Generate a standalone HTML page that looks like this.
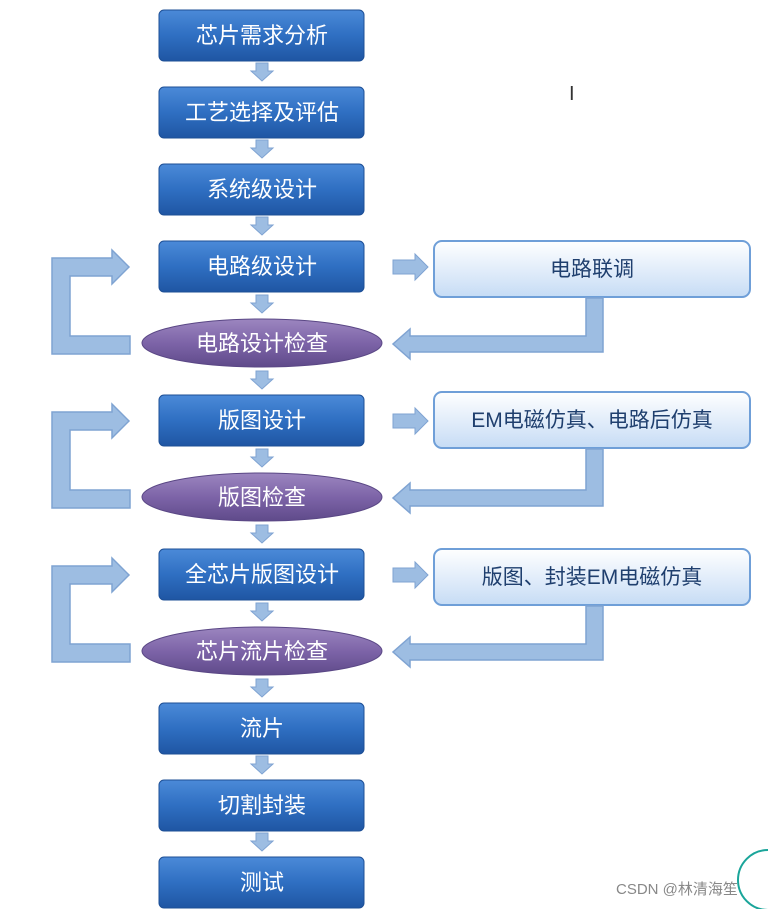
<!DOCTYPE html>
<html><head><meta charset="utf-8"><style>
html,body{margin:0;padding:0;background:#fff;width:768px;height:909px;overflow:hidden}
text{font-family:"Liberation Sans","Noto Sans CJK SC",sans-serif}
</style></head><body>
<svg width="768" height="909" viewBox="0 0 768 909" xmlns="http://www.w3.org/2000/svg">
<defs>
<linearGradient id="bb" x1="0" y1="0" x2="0" y2="1">
<stop offset="0" stop-color="#4b8ad8"/><stop offset="0.5" stop-color="#2f6fc2"/><stop offset="1" stop-color="#1f56a3"/></linearGradient>
<linearGradient id="pe" x1="0" y1="0" x2="0" y2="1">
<stop offset="0" stop-color="#9c86c0"/><stop offset="0.5" stop-color="#7d64a8"/><stop offset="1" stop-color="#5f4a8a"/></linearGradient>
<linearGradient id="lb" x1="0" y1="0" x2="0" y2="1">
<stop offset="0" stop-color="#ffffff"/><stop offset="1" stop-color="#c6dcf5"/></linearGradient>
<g id="down"><path d="M-6,0 H6 V8 H11 L0,18 L-11,8 H-6 Z" fill="#9dbde2" stroke="#7fa3d2" stroke-width="1"/></g>
<g id="right"><path d="M0,-7 H22 V-13 L35,0 L22,13 V7 H0 Z" fill="#9dbde2" stroke="#7fa3d2" stroke-width="1"/></g>
</defs>

<!-- blue boxes -->
<g font-size="22" fill="#fff" text-anchor="middle">
<g id="boxes">
<rect x="159" y="10" width="205" height="51" rx="5" fill="url(#bb)" stroke="#1d4f96"/>
<rect x="159" y="87" width="205" height="51" rx="5" fill="url(#bb)" stroke="#1d4f96"/>
<rect x="159" y="164" width="205" height="51" rx="5" fill="url(#bb)" stroke="#1d4f96"/>
<rect x="159" y="241" width="205" height="51" rx="5" fill="url(#bb)" stroke="#1d4f96"/>
<rect x="159" y="395" width="205" height="51" rx="5" fill="url(#bb)" stroke="#1d4f96"/>
<rect x="159" y="549" width="205" height="51" rx="5" fill="url(#bb)" stroke="#1d4f96"/>
<rect x="159" y="703" width="205" height="51" rx="5" fill="url(#bb)" stroke="#1d4f96"/>
<rect x="159" y="780" width="205" height="51" rx="5" fill="url(#bb)" stroke="#1d4f96"/>
<rect x="159" y="857" width="205" height="51" rx="5" fill="url(#bb)" stroke="#1d4f96"/>
</g>
<text x="262" y="43" fill="#fff">芯片需求分析</text>
<text x="262" y="120" fill="#fff">工艺选择及评估</text>
<text x="262" y="197" fill="#fff">系统级设计</text>
<text x="262" y="274" fill="#fff">电路级设计</text>
<text x="262" y="428" fill="#fff">版图设计</text>
<text x="262" y="582" fill="#fff">全芯片版图设计</text>
<text x="262" y="736" fill="#fff">流片</text>
<text x="262" y="813" fill="#fff">切割封装</text>
<text x="262" y="890" fill="#fff">测试</text>

<ellipse cx="262" cy="343" rx="120" ry="24" fill="url(#pe)" stroke="#5a4785"/>
<ellipse cx="262" cy="497" rx="120" ry="24" fill="url(#pe)" stroke="#5a4785"/>
<ellipse cx="262" cy="651" rx="120" ry="24" fill="url(#pe)" stroke="#5a4785"/>
<text x="262" y="351" fill="#fff">电路设计检查</text>
<text x="262" y="505" fill="#fff">版图检查</text>
<text x="262" y="659" fill="#fff">芯片流片检查</text>
</g>

<!-- right light boxes -->
<g font-size="21" fill="#1f3f6e" text-anchor="middle">
<rect x="434" y="241" width="316" height="56" rx="8" fill="url(#lb)" stroke="#6f9fd8" stroke-width="2"/>
<rect x="434" y="392" width="316" height="56" rx="8" fill="url(#lb)" stroke="#6f9fd8" stroke-width="2"/>
<rect x="434" y="549" width="316" height="56" rx="8" fill="url(#lb)" stroke="#6f9fd8" stroke-width="2"/>
<text x="592" y="276">电路联调</text>
<text x="592" y="427">EM电磁仿真、电路后仿真</text>
<text x="592" y="584">版图、封装EM电磁仿真</text>
</g>

<!-- small down arrows -->
<use href="#down" x="262" y="63"/>
<use href="#down" x="262" y="140"/>
<use href="#down" x="262" y="217"/>
<use href="#down" x="262" y="295"/>
<use href="#down" x="262" y="371"/>
<use href="#down" x="262" y="449"/>
<use href="#down" x="262" y="525"/>
<use href="#down" x="262" y="603"/>
<use href="#down" x="262" y="679"/>
<use href="#down" x="262" y="756"/>
<use href="#down" x="262" y="833"/>

<!-- right arrows -->
<use href="#right" x="393" y="267"/>
<use href="#right" x="393" y="421"/>
<use href="#right" x="393" y="575"/>

<!-- loops and returns -->
<g fill="#9dbde2" stroke="#7fa3d2" stroke-width="1.5">
<path d="M130,354 H52 V258 H112 V250 L129,267 L112,284 V276 H70 V336 H130 Z"/>
<path d="M130,508 H52 V412 H112 V404 L129,421 L112,438 V430 H70 V490 H130 Z"/>
<path d="M130,662 H52 V566 H112 V558 L129,575 L112,592 V584 H70 V644 H130 Z"/>

<path d="M586,298 H603 V352 H410 V359 L393,344 L410,329 V336 H586 Z"/>
<path d="M586,449 H603 V506 H410 V513 L393,498 L410,483 V490 H586 Z"/>
<path d="M586,606 H603 V660 H410 V667 L393,652 L410,637 V644 H586 Z"/>
</g>

<text x="569" y="100" font-size="20" fill="#333">I</text>
<text x="616" y="894" font-size="15" fill="#888">CSDN @林清海笙</text>
<circle cx="768" cy="880" r="30" fill="none" stroke="#1aa59a" stroke-width="2"/>
</svg>
</body></html>
